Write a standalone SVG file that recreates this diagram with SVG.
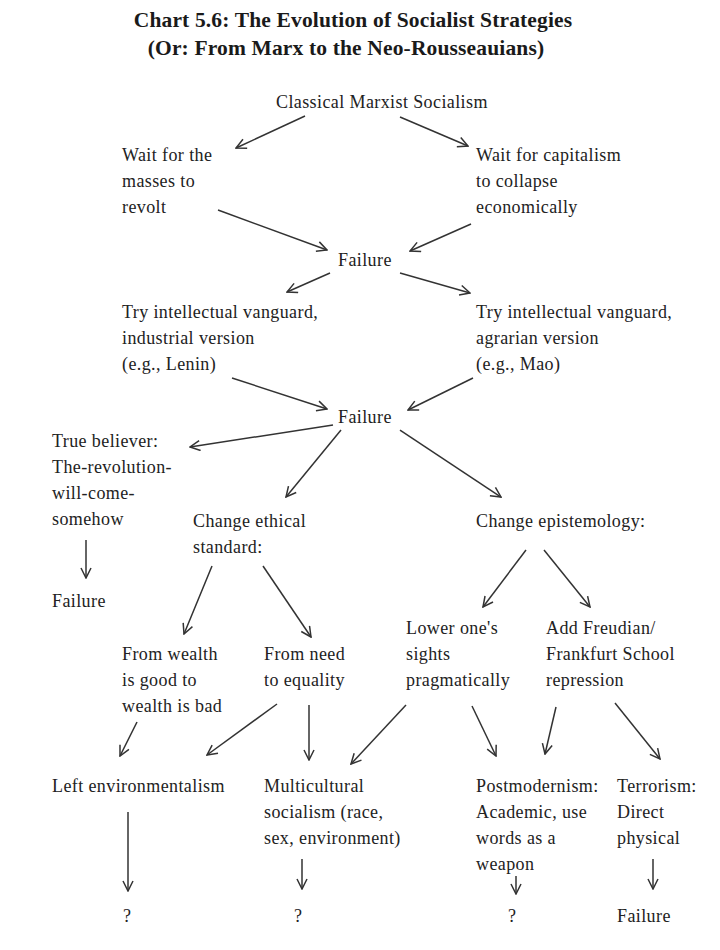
<svg xmlns="http://www.w3.org/2000/svg" width="720" height="950" viewBox="0 0 720 950">
<style>
text{font-family:"Liberation Serif","Times New Roman",serif;font-size:18px;letter-spacing:0.4px;fill:#222}
.t{font-weight:bold;font-size:21.5px;letter-spacing:0.15px;fill:#1a1a1a}
.c{stroke:#333;stroke-width:1.5;fill:none;marker-end:url(#a)}
</style>
<defs>
<marker id="a" viewBox="0 0 12 12" refX="11" refY="6" markerWidth="12" markerHeight="12" markerUnits="userSpaceOnUse" orient="auto">
<path d="M1,1 L11,6 L1,11" fill="none" stroke="#333" stroke-width="1.5"/>
</marker>
</defs>
<rect width="720" height="950" fill="#fff"/>
<g id="title">
<text class="t" x="353" y="27" text-anchor="middle">Chart 5.6: The Evolution of Socialist Strategies</text>
<text class="t" x="346" y="55" text-anchor="middle">(Or: From Marx to the Neo-Rousseauians)</text>
</g>
<g id="n-classical"><text x="276" y="108">Classical Marxist Socialism</text></g>
<g id="n-wait-masses"><text x="122" y="161">Wait for the</text><text x="122" y="187">masses to</text><text x="122" y="213">revolt</text></g>
<g id="n-wait-capitalism"><text x="476" y="161">Wait for capitalism</text><text x="476" y="187">to collapse</text><text x="476" y="213">economically</text></g>
<g id="n-failure1"><text x="338" y="266">Failure</text></g>
<g id="n-vanguard-ind"><text x="122" y="318">Try intellectual vanguard,</text><text x="122" y="344">industrial version</text><text x="122" y="370">(e.g., Lenin)</text></g>
<g id="n-vanguard-agr"><text x="476" y="318">Try intellectual vanguard,</text><text x="476" y="344">agrarian version</text><text x="476" y="370">(e.g., Mao)</text></g>
<g id="n-failure2"><text x="338" y="423">Failure</text></g>
<g id="n-true-believer"><text x="52" y="447">True believer:</text><text x="52" y="473">The-revolution-</text><text x="52" y="499">will-come-</text><text x="52" y="525">somehow</text></g>
<g id="n-failure3"><text x="52" y="607">Failure</text></g>
<g id="n-ethical"><text x="193" y="527">Change ethical</text><text x="193" y="553">standard:</text></g>
<g id="n-epistemology"><text x="476" y="527">Change epistemology:</text></g>
<g id="n-wealth"><text x="122" y="660">From wealth</text><text x="122" y="686">is good to</text><text x="122" y="712">wealth is bad</text></g>
<g id="n-need"><text x="264" y="660">From need</text><text x="264" y="686">to equality</text></g>
<g id="n-lower"><text x="406" y="634">Lower one's</text><text x="406" y="660">sights</text><text x="406" y="686">pragmatically</text></g>
<g id="n-freudian"><text x="546" y="634">Add Freudian/</text><text x="546" y="660">Frankfurt School</text><text x="546" y="686">repression</text></g>
<g id="n-leftenv"><text x="52" y="792">Left environmentalism</text></g>
<g id="n-multicultural"><text x="264" y="792">Multicultural</text><text x="264" y="818">socialism (race,</text><text x="264" y="844">sex, environment)</text></g>
<g id="n-postmodernism"><text x="476" y="792">Postmodernism:</text><text x="476" y="818">Academic, use</text><text x="476" y="844">words as a</text><text x="476" y="870">weapon</text></g>
<g id="n-terrorism"><text x="617" y="792">Terrorism:</text><text x="617" y="818">Direct</text><text x="617" y="844">physical</text></g>
<g id="n-q1"><text x="123" y="922">?</text></g>
<g id="n-q2"><text x="294" y="922">?</text></g>
<g id="n-q3"><text x="508" y="922">?</text></g>
<g id="n-failure4"><text x="617" y="922">Failure</text></g>
<g id="connectors">
<path class="c" d="M305,116 L236,148"/>
<path class="c" d="M400,117 L468,146"/>
<path class="c" d="M218,210 L327,250"/>
<path class="c" d="M471,224 L410,251"/>
<path class="c" d="M330,273 L287,292"/>
<path class="c" d="M400,273 L470,293"/>
<path class="c" d="M232,378 L327,409"/>
<path class="c" d="M473,378 L408,410"/>
<path class="c" d="M333,425 L190,447"/>
<path class="c" d="M341,430 L286,497"/>
<path class="c" d="M400,430 L501,497"/>
<path class="c" d="M86,540 L86,578"/>
<path class="c" d="M212,566 L184,634"/>
<path class="c" d="M263,566 L311,637"/>
<path class="c" d="M526,550 L483,607"/>
<path class="c" d="M544,550 L590,607"/>
<path class="c" d="M137,722 L120,756"/>
<path class="c" d="M277,704 L207,755"/>
<path class="c" d="M309,705 L309,760"/>
<path class="c" d="M406,705 L351,764"/>
<path class="c" d="M472,706 L496,756"/>
<path class="c" d="M556,707 L545,754"/>
<path class="c" d="M615,703 L660,759"/>
<path class="c" d="M128,812 L128,891"/>
<path class="c" d="M302,859 L302,889"/>
<path class="c" d="M516,876 L516,894"/>
<path class="c" d="M653,859 L653,889"/>
</g>
</svg>
